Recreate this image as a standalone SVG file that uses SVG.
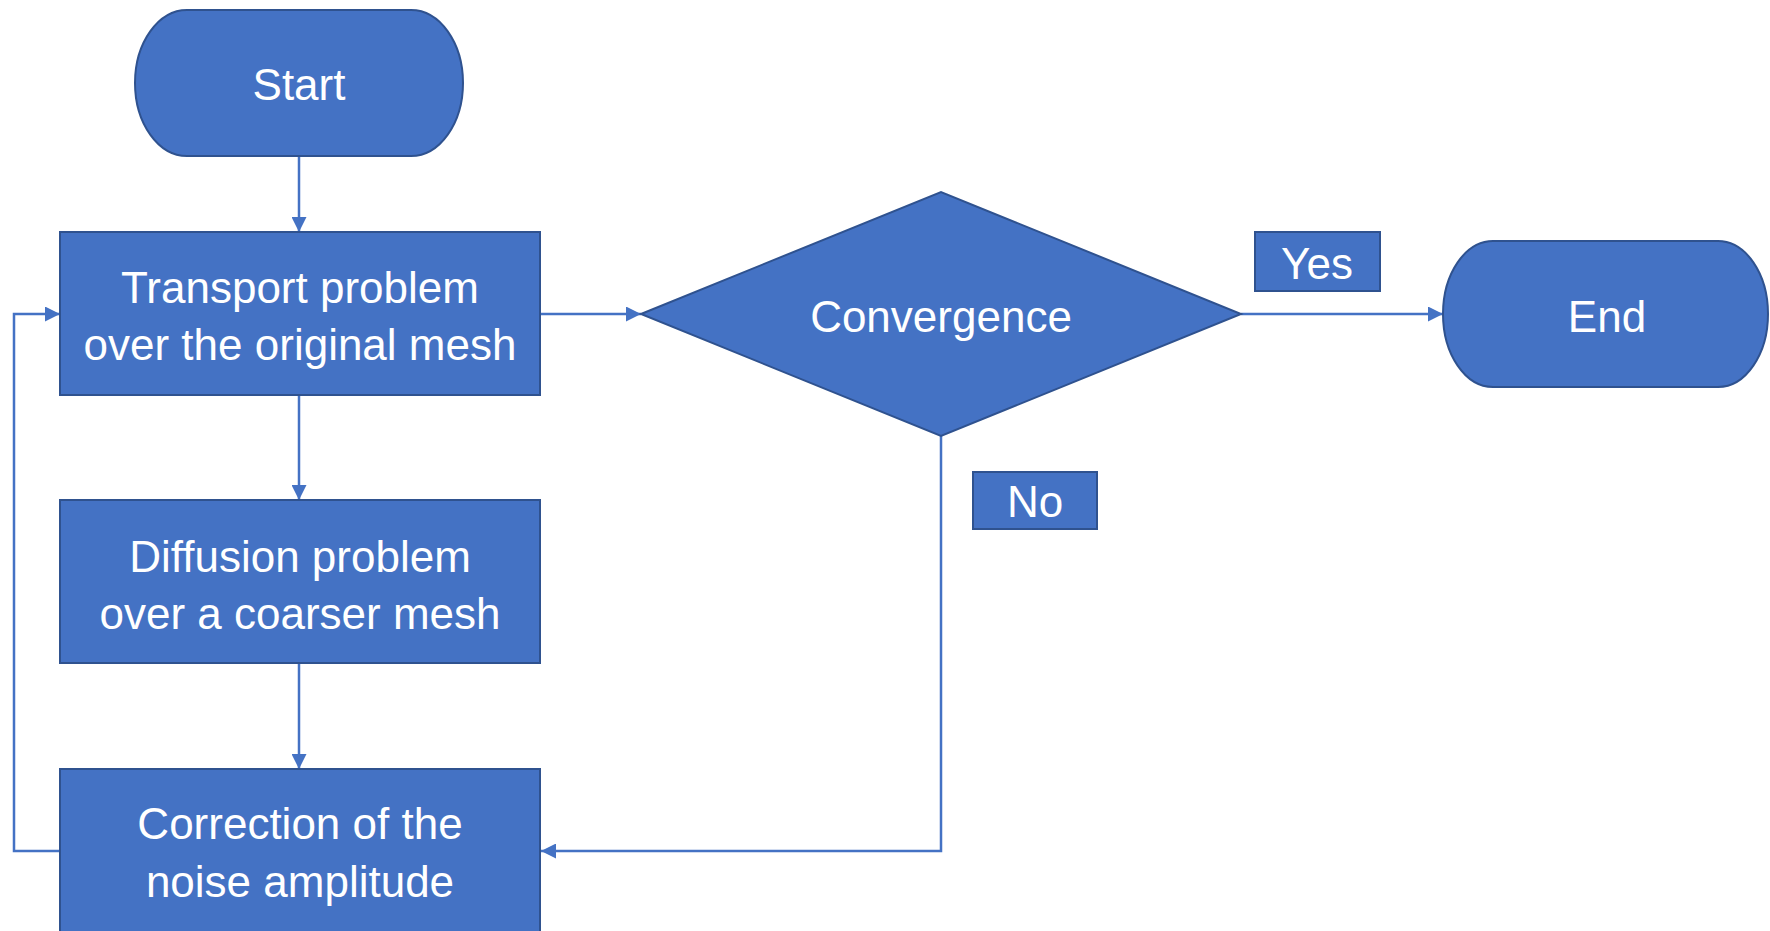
<svg xmlns="http://www.w3.org/2000/svg" width="1770" height="931" viewBox="0 0 1770 931">
<style>
.n{fill:#4472C4;stroke:#2F528F;stroke-width:2}
.t{fill:#FFFFFF;font-family:"Liberation Sans",Arial,sans-serif;font-size:44px;text-anchor:middle}
.c{fill:none;stroke:#4472C4;stroke-width:2.5}
</style>
<defs>
<marker id="ah" markerUnits="userSpaceOnUse" markerWidth="15" markerHeight="15" refX="15" refY="7.5" orient="auto">
<path d="M0,0 L15,7.5 L0,15 Z" fill="#4472C4"/>
</marker>
</defs>
<g id="connectors">
<path class="c" d="M299,156 L299,232" marker-end="url(#ah)"/>
<path class="c" d="M299,395 L299,500" marker-end="url(#ah)"/>
<path class="c" d="M299,663 L299,769" marker-end="url(#ah)"/>
<path class="c" d="M540,314 L641,314" marker-end="url(#ah)"/>
<path class="c" d="M1241,314 L1443,314" marker-end="url(#ah)"/>
<path class="c" d="M941,436 L941,851 L541,851" marker-end="url(#ah)"/>
<path class="c" d="M60,851 L14,851 L14,314 L60,314" marker-end="url(#ah)"/>
</g>
<g id="start">
<rect class="n" x="135" y="10" width="328" height="146" rx="52" ry="73"/>
<text class="t" x="299" y="100">Start</text>
</g>
<g id="transport">
<rect class="n" x="60" y="232" width="480" height="163"/>
<text class="t" x="300" y="303">Transport problem</text>
<text class="t" x="300" y="360">over the original mesh</text>
</g>
<g id="diffusion">
<rect class="n" x="60" y="500" width="480" height="163"/>
<text class="t" x="300" y="572">Diffusion problem</text>
<text class="t" x="300" y="629">over a coarser mesh</text>
</g>
<g id="correction">
<rect class="n" x="60" y="769" width="480" height="163"/>
<text class="t" x="300" y="839">Correction of the</text>
<text class="t" x="300" y="897">noise amplitude</text>
</g>
<g id="convergence">
<polygon class="n" points="641,314 941,192 1241,314 941,436"/>
<text class="t" x="941" y="332">Convergence</text>
</g>
<g id="end">
<rect class="n" x="1443" y="241" width="325" height="146" rx="50" ry="73"/>
<text class="t" x="1607" y="332">End</text>
</g>
<g id="yes">
<rect class="n" x="1255" y="232" width="125" height="59"/>
<text class="t" x="1317" y="279">Yes</text>
</g>
<g id="no">
<rect class="n" x="973" y="472" width="124" height="57"/>
<text class="t" x="1035" y="517">No</text>
</g>
</svg>
